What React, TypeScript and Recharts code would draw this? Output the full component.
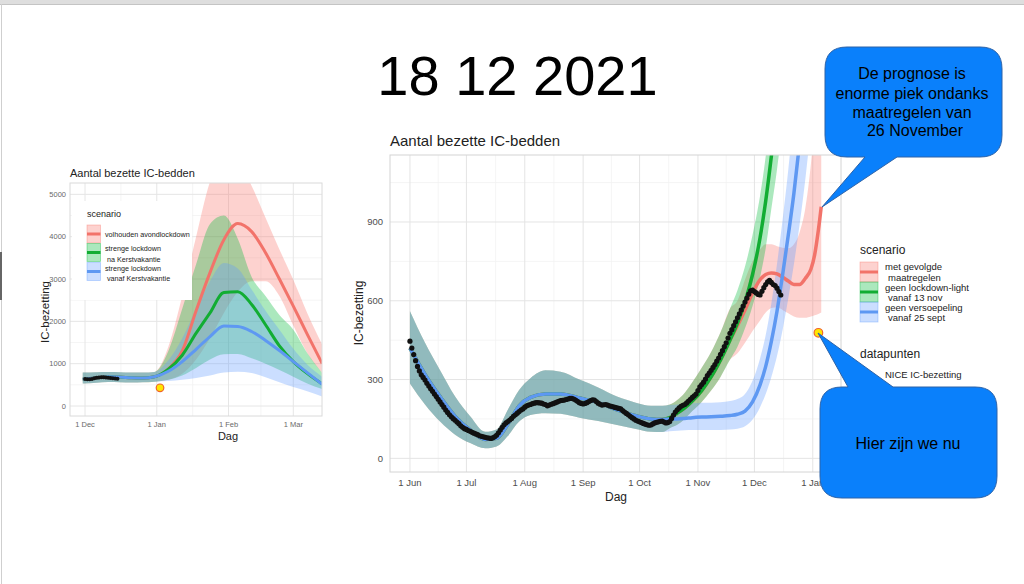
import React from "react";
import { ComposedChart, Area, Line, Scatter, XAxis, YAxis, CartesianGrid } from "recharts";

const FONT = '"Liberation Sans", Arial, Helvetica, sans-serif';
const RED = "#f2736a";
const GREEN = "#12ad33";
const BLUE = "#5e98f2";
const RED_FILL = "#F8766D";
const GREEN_FILL = "#00BA38";
const BLUE_FILL = "#619CFF";
const BAND = 0.33;

// ---------- main chart: x = days since 1 June 2021 ----------
const mainTicks = [0, 30, 61, 92, 122, 153, 183, 214];
const mainTickLabels = ["1 Jun", "1 Jul", "1 Aug", "1 Sep", "1 Oct", "1 Nov", "1 Dec", "1 Jan"];
const mainMinorX = [15, 45.5, 76.5, 107, 137.5, 168, 198.5];
const mainYTicks = [0, 300, 600, 900];
const mainMinorY = [150, 450, 750, 1050];

// shared model fit (all scenarios equal until mid October)
const fitDays = [0, 8, 16, 24, 32, 40, 46, 52, 58, 64, 72, 80, 90, 100, 110, 120, 128, 134];
const fitMid = [420, 320, 235, 160, 108, 72, 76, 130, 200, 232, 245, 245, 230, 212, 185, 162, 150, 148];
const fitLo = [285, 205, 140, 90, 58, 38, 45, 85, 140, 165, 172, 170, 155, 142, 127, 112, 101, 100];
const fitHi = [560, 440, 335, 235, 160, 101, 110, 185, 260, 305, 335, 330, 300, 270, 235, 212, 200, 200];

// scenario tails
const tailDays = [138, 142, 146, 150, 155, 160, 165, 170, 174, 178, 182, 186, 189, 192, 195, 198, 201, 204, 207, 210, 213, 215, 217, 218.5];
const redMid = [155, 172, 192, 218, 258, 310, 375, 450, 505, 565, 630, 680, 700, 706, 702, 690, 675, 662, 662, 685, 720, 775, 870, 958];
const redLo = [115, 128, 150, 180, 215, 258, 310, 375, 400, 440, 485, 525, 555, 572, 575, 565, 552, 540, 535, 535, 540, 545, 550, 555];
const redHi = [205, 222, 250, 290, 345, 405, 480, 570, 600, 680, 750, 795, 815, 815, 808, 802, 800, 815, 860, 950, 1120, 1280, 1430, 1550];
const greenMid = [155, 172, 192, 218, 258, 310, 375, 450, 515, 595, 700, 840, 980, 1150, 1340, 1560, 1800, 2080, 2400, 2750, 3150, 3450, 3750, 4000];
const greenLo = [115, 128, 150, 180, 215, 258, 310, 375, 425, 495, 580, 690, 800, 950, 1100, 1280, 1480, 1700, 1950, 2250, 2600, 2850, 3100, 3300];
const greenHi = [205, 222, 250, 290, 345, 405, 480, 570, 640, 730, 850, 1000, 1150, 1350, 1580, 1850, 2150, 2480, 2850, 3250, 3700, 4000, 4350, 4600];
const blueMid = [150, 150, 152, 155, 157, 158, 160, 163, 168, 180, 215, 280, 350, 445, 560, 700, 850, 1010, 1200, 1420, 1680, 1870, 2080, 2250];
const blueLo = [103, 105, 107, 108, 108, 108, 108, 110, 113, 122, 148, 195, 245, 310, 390, 490, 610, 740, 890, 1060, 1260, 1400, 1560, 1700];
const blueHi = [203, 205, 208, 210, 212, 212, 214, 218, 226, 245, 295, 380, 470, 590, 740, 910, 1100, 1320, 1560, 1830, 2120, 2350, 2600, 2800];

// NICE IC occupancy, daily from 1 June
const niceValues = [
  446, 420, 395, 372, 350, 333, 318, 308, 298, 286,
  275, 265, 255, 245, 235, 225, 215, 205, 195, 184,
  175, 166, 158, 151, 145, 138, 132, 124, 118, 113,
  110, 106, 103, 99, 96, 93, 90, 86, 84, 82,
  80, 78, 77, 76, 78, 82, 88, 97, 108, 118,
  128, 135, 140, 146, 152, 160, 166, 172, 178, 184,
  188, 195, 200, 203, 205, 208, 210, 212, 212, 211,
  210, 207, 205, 200, 203, 206, 208, 211, 214, 217,
  220, 221, 222, 224, 226, 228, 228, 226, 222, 217,
  212, 209, 207, 209, 212, 216, 220, 223, 222, 216,
  210, 206, 203, 204, 205, 203, 200, 198, 196, 194,
  192, 190, 188, 182, 176, 171, 166, 160, 155, 150,
  145, 142, 139, 136, 133, 130, 128, 126, 127, 131,
  135, 137, 139, 141, 142, 138, 135, 136, 140, 152,
  165, 176, 185, 192, 198, 202, 205, 211, 218, 225,
  232, 238, 245, 258, 272, 281, 290, 302, 315, 325,
  335, 346, 357, 370, 382, 396, 410, 425, 440, 458,
  476, 490, 505, 520, 535, 550, 565, 580, 595, 610,
  625, 638, 641, 635, 630, 624, 622, 636, 650, 662,
  672, 678, 670, 662, 658, 648, 635, 622,
];
const nowDay = 217;
const nowValue = 478;

// ---------- small chart: x = days since 1 December 2021 ----------
const smallTicks = [0, 31, 62, 90];
const smallTickLabels = ["1 Dec", "1 Jan", "1 Feb", "1 Mar"];
const smallMinorX = [15.5, 46.5, 76];
const smallYTicks = [0, 1000, 2000, 3000, 4000, 5000];
const smallMinorY = [500, 1500, 2500, 3500, 4500];

const smallFitDays = [-1, 5, 10, 15, 20, 25, 30];
const smallFitMid = [635, 665, 690, 685, 665, 660, 690];
const smallFitLo = [530, 550, 565, 560, 555, 560, 575];
const smallFitHi = [790, 800, 805, 800, 790, 790, 805];

const smallTailDays = [36, 42, 48, 54, 60, 66, 72, 78, 84, 90, 96, 102.5];
const sRedMid = [880, 1300, 2250, 3150, 3930, 4310, 4120, 3620, 3000, 2360, 1700, 1000];
const sRedLo = [620, 760, 1100, 1600, 2200, 2700, 2950, 2950, 2600, 1900, 1250, 780];
const sRedHi = [1400, 2600, 4000, 5300, 6000, 5800, 5200, 4450, 3700, 2980, 2200, 1450];
const sGreenMid = [870, 1200, 1720, 2200, 2680, 2700, 2400, 1920, 1420, 1050, 770, 520];
const sGreenLo = [620, 720, 900, 1100, 1220, 1230, 1130, 1000, 850, 690, 530, 400];
const sGreenHi = [1300, 2300, 3350, 4300, 4500, 3950, 3050, 2600, 2150, 1800, 1250, 780];
const sBlueMid = [820, 1050, 1340, 1640, 1890, 1880, 1760, 1550, 1310, 1050, 790, 510];
const sBlueLo = [590, 620, 660, 720, 790, 810, 780, 680, 560, 450, 350, 220];
const sBlueHi = [1080, 1600, 2300, 2950, 3380, 3250, 2750, 2250, 1800, 1350, 980, 690];

const smallNice = [640, 635, 632, 640, 655, 665, 675, 680, 678, 672, 668, 662, 655, 650, 645];
const smallNowDay = 32.4;
const smallNowValue = 430;

function buildRows(
  sharedDays: number[], mid: number[], lo: number[], hi: number[],
  days: number[],
  r: number[][], g: number[][], b: number[][]
) {
  const shared = sharedDays.map((day, i) => ({
    day,
    red: mid[i], green: mid[i], blue: mid[i],
    redBand: [lo[i], hi[i]], greenBand: [lo[i], hi[i]], blueBand: [lo[i], hi[i]],
  }));
  const tail = days.map((day, i) => ({
    day,
    red: r[0][i], green: g[0][i], blue: b[0][i],
    redBand: [r[1][i], r[2][i]], greenBand: [g[1][i], g[2][i]], blueBand: [b[1][i], b[2][i]],
  }));
  return [...shared, ...tail];
}

const mainRows = buildRows(fitDays, fitMid, fitLo, fitHi, tailDays,
  [redMid, redLo, redHi], [greenMid, greenLo, greenHi], [blueMid, blueLo, blueHi]);
const smallRows = buildRows(smallFitDays, smallFitMid, smallFitLo, smallFitHi, smallTailDays,
  [sRedMid, sRedLo, sRedHi], [sGreenMid, sGreenLo, sGreenHi], [sBlueMid, sBlueLo, sBlueHi]);

const niceRows = niceValues.map((v, i) => ({ day: i, v }));
const smallNiceRows = smallNice.map((v, i) => ({ day: i, v }));

function dotShape(r: number, fill: string, stroke?: string) {
  // eslint-disable-next-line @typescript-eslint/no-explicit-any
  return (p: any) => (
    <circle cx={p.cx} cy={p.cy} r={r} fill={fill} stroke={stroke ?? "none"} strokeWidth={stroke ? 1.2 : 0} />
  );
}

function scenarioSeries(lineWidth: number) {
  const list = [
    { key: "red", color: RED, fill: RED_FILL },
    { key: "green", color: GREEN, fill: GREEN_FILL },
    { key: "blue", color: BLUE, fill: BLUE_FILL },
  ];
  const out: React.ReactNode[] = [];
  for (const s of list) {
    out.push(
      <Area
        key={s.key + "Band"}
        dataKey={s.key + "Band"}
        type="monotone"
        stroke="none"
        fill={s.fill}
        fillOpacity={BAND}
        isAnimationActive={false}
        activeDot={false}
      />
    );
    out.push(
      <Line
        key={s.key}
        dataKey={s.key}
        type="monotone"
        stroke={s.color}
        strokeWidth={lineWidth}
        dot={false}
        activeDot={false}
        isAnimationActive={false}
      />
    );
  }
  return out;
}

function MainChart() {
  const tick = { fontSize: 9.5, fill: "#4d4d4d", fontFamily: FONT };
  return (
    <div style={{ position: "absolute", left: 330, top: 120 }}>
      <ComposedChart width={520} height={390} data={mainRows} margin={{ top: 35, right: 9, bottom: 8, left: 15 }}>
        <CartesianGrid stroke="#f2f2f2" strokeWidth={0.8} horizontalValues={mainMinorY} verticalValues={mainMinorX} />
        <CartesianGrid stroke="#e4e4e4" strokeWidth={1} horizontalValues={mainYTicks} verticalValues={mainTicks} />
        <XAxis
          dataKey="day"
          type="number"
          domain={[-10.6, 229]}
          ticks={mainTicks}
          interval={0}
          tickFormatter={(v) => mainTickLabels[mainTicks.indexOf(v)] ?? ""}
          allowDataOverflow
          axisLine={false}
          tickLine={false}
          tickSize={0}
          tickMargin={7}
          height={30}
          tick={tick}
        />
        <YAxis
          type="number"
          domain={[-52, 1155]}
          ticks={mainYTicks}
          interval={0}
          allowDataOverflow
          axisLine={false}
          tickLine={false}
          tickSize={0}
          tickMargin={7}
          width={45}
          tick={tick}
        />
        {scenarioSeries(3.5)}
        <Scatter data={niceRows} dataKey="v" shape={dotShape(2.6, "#111")} isAnimationActive={false} />
        <Scatter data={[{ day: nowDay, v: nowValue }]} dataKey="v" shape={dotShape(4.3, "#ffe600", "#f0642a")} isAnimationActive={false} />
      </ComposedChart>
    </div>
  );
}

function SmallChart() {
  const tick = { fontSize: 7.5, fill: "#6a6a6a", fontFamily: FONT };
  return (
    <div style={{ position: "absolute", left: 20, top: 165 }}>
      <ComposedChart width={310} height={280} data={smallRows} margin={{ top: 18, right: 8, bottom: 7, left: 10 }}>
        <CartesianGrid stroke="#f2f2f2" strokeWidth={0.8} horizontalValues={smallMinorY} verticalValues={smallMinorX} />
        <CartesianGrid stroke="#e6e6e6" strokeWidth={1} horizontalValues={smallYTicks} verticalValues={smallTicks} />
        <XAxis
          dataKey="day"
          type="number"
          domain={[-6.5, 102.4]}
          ticks={smallTicks}
          interval={0}
          tickFormatter={(v) => smallTickLabels[smallTicks.indexOf(v)] ?? ""}
          allowDataOverflow
          axisLine={false}
          tickLine={false}
          tickSize={0}
          tickMargin={6}
          height={22}
          tick={tick}
        />
        <YAxis
          type="number"
          domain={[-236, 5268]}
          ticks={smallYTicks}
          interval={0}
          allowDataOverflow
          axisLine={false}
          tickLine={false}
          tickSize={0}
          tickMargin={4}
          width={40}
          tick={tick}
        />
        {scenarioSeries(3)}
        <Scatter data={smallNiceRows} dataKey="v" shape={dotShape(2, "#111")} isAnimationActive={false} />
        <Scatter
          data={[{ day: smallNowDay, v: smallNowValue }]}
          dataKey="v"
          shape={dotShape(3.8, "#ffe600", "#f0642a")}
          isAnimationActive={false}
        />
      </ComposedChart>
    </div>
  );
}

function LegendKey({ x, y, w, h, color, fill }: { x: number; y: number; w: number; h: number; color: string; fill: string }) {
  return (
    <g>
      <rect x={x} y={y} width={w} height={h} fill={fill} fillOpacity={0.33} stroke={fill} strokeOpacity={0.45} strokeWidth={0.8} />
      <line x1={x} x2={x + w} y1={y + h / 2} y2={y + h / 2} stroke={color} strokeWidth={3} />
    </g>
  );
}

function Overlay() {
  const calloutFill = "#0a80fb";
  const calloutStroke = "#2d63a8";
  return (
    <svg width={1024} height={584} style={{ position: "absolute", left: 0, top: 0, pointerEvents: "none" }} fontFamily={FONT}>
      {/* slide frame */}
      <rect x={0} y={0} width={1024} height={4} fill="#dedede" />
      <line x1={0} x2={1024} y1={4.5} y2={4.5} stroke="#c4c4c4" />
      <line x1={1.5} x2={1.5} y1={4} y2={584} stroke="#cfcfcf" />
      <rect x={0} y={252} width={2} height={48} fill="#666" />

      <text x={517.5} y={95} fontSize={56} textAnchor="middle" fill="#000">18 12 2021</text>

      {/* main chart decoration */}
      <text x={390} y={146} fontSize={15} fill="#222">Aantal bezette IC-bedden</text>
      <rect x={390} y={155} width={451} height={317} fill="none" stroke="#d4d4d4" strokeWidth={1} />
      <text transform="translate(362.5,313) rotate(-90)" fontSize={12} textAnchor="middle" fill="#222">IC-bezetting</text>
      <text x={616} y={501} fontSize={12} textAnchor="middle" fill="#222">Dag</text>

      <text x={860} y={254} fontSize={12} fill="#222">scenario</text>
      <LegendKey x={860} y={262} w={18} h={20} color={RED} fill={RED_FILL} />
      <LegendKey x={860} y={282} w={18} h={20} color={GREEN} fill={GREEN_FILL} />
      <LegendKey x={860} y={302} w={18} h={20} color={BLUE} fill={BLUE_FILL} />
      <g fontSize={9.5} fill="#222">
        <text x={885} y={270.4}>met gevolgde</text>
        <text x={888} y={281.4}>maatregelen</text>
        <text x={885} y={291.4}>geen lockdown-light</text>
        <text x={888} y={301}>vanaf 13 nov</text>
        <text x={885} y={311}>geen versoepeling</text>
        <text x={888} y={321}>vanaf 25 sept</text>
      </g>
      <text x={860} y={357.5} fontSize={12} fill="#222">datapunten</text>
      <text x={885} y={378} fontSize={9.5} fill="#222">NICE IC-bezetting</text>

      {/* small chart decoration */}
      <text x={70} y={177} fontSize={11} fill="#222">Aantal bezette IC-bedden</text>
      <rect x={70} y={183} width={252} height={233} fill="none" stroke="#dadada" strokeWidth={1} />
      <text transform="translate(49,312) rotate(-90)" fontSize={11.5} textAnchor="middle" fill="#222">IC-bezetting</text>
      <text x={228} y={440} fontSize={11} textAnchor="middle" fill="#222">Dag</text>

      <rect x={72} y={201} width={120} height={99} fill="#fff" />
      <text x={87} y={216.5} fontSize={9} fill="#222">scenario</text>
      <LegendKey x={87} y={225} w={13.5} h={18} color={RED} fill={RED_FILL} />
      <LegendKey x={87} y={243.5} w={13.5} h={18} color={GREEN} fill={GREEN_FILL} />
      <LegendKey x={87} y={262.5} w={13.5} h={18} color={BLUE} fill={BLUE_FILL} />
      <g fontSize={7.2} fill="#222">
        <text x={105} y={236.8}>volhouden avondlockdown</text>
        <text x={105} y={250.8}>strenge lockdown</text>
        <text x={107} y={261.8}>na Kerstvakantie</text>
        <text x={105} y={270.8}>strenge lockdown</text>
        <text x={107} y={280.8}>vanaf Kerstvakantie</text>
      </g>

      {/* callouts */}
      <path
        d="M 847 47 H 980 Q 1002 47 1002 69 V 135 Q 1002 157 980 157 H 897 L 822 207 L 865 157 H 847 Q 825 157 825 135 V 69 Q 825 47 847 47 Z"
        fill={calloutFill}
        stroke={calloutStroke}
        strokeWidth={1}
      />
      <g fontSize={16} fill="#000" textAnchor="middle">
        <text x={912} y={79}>De prognose is</text>
        <text x={912} y={99}>enorme piek ondanks</text>
        <text x={912} y={117.5}>maatregelen van</text>
        <text x={915} y={136}>26 November</text>
      </g>
      <path
        d="M 842 387 H 848 L 818 333 L 893 387 H 975 Q 997 387 997 409 V 476 Q 997 498 975 498 H 842 Q 820 498 820 476 V 409 Q 820 387 842 387 Z"
        fill={calloutFill}
        stroke={calloutStroke}
        strokeWidth={1}
      />
      <text x={908} y={449} fontSize={16} fill="#000" textAnchor="middle">Hier zijn we nu</text>
    </svg>
  );
}

export default function App() {
  return (
    <div
      style={{
        position: "absolute",
        left: 0,
        top: 0,
        width: 1024,
        height: 584,
        background: "#fff",
        overflow: "hidden",
        fontFamily: FONT,
      }}
    >
      <SmallChart />
      <MainChart />
      <Overlay />
    </div>
  );
}
